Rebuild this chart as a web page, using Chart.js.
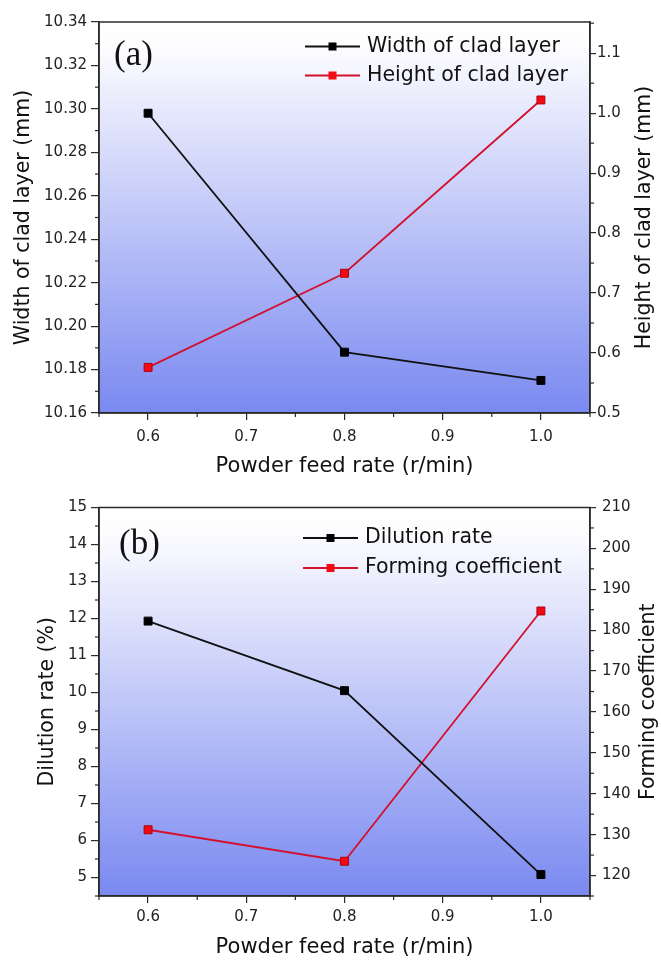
<!DOCTYPE html>
<html>
<head>
<meta charset="utf-8">
<script src="https://cdn.jsdelivr.net/npm/chart.js@4/dist/chart.umd.min.js"></script>
<style>
  html, body { margin: 0; padding: 0; background: #fff; }
  .panel { position: absolute; left: 0; width: 661px; height: 481px; }
</style>
</head>
<body>
<div class="panel" style="top:0"><canvas id="chartA" width="661" height="481"></canvas></div>
<div class="panel" style="top:481px"><canvas id="chartB" width="661" height="481"></canvas></div>
<script>
'use strict';

// data
var feedRate = [0.6, 0.8, 1.0];
var cladWidth = [10.298, 10.188, 10.175];
var cladHeight = [0.576, 0.733, 1.022];
var dilutionRate = [11.93, 10.05, 5.08];
var formingCoef = [131.2, 123.5, 184.7];

// tick labels
var feedTicks = [0.6, 0.7, 0.8, 0.9, 1.0];
var widthTicks = [10.16, 10.18, 10.20, 10.22, 10.24, 10.26, 10.28, 10.30, 10.32, 10.34];
var heightTicks = [0.5, 0.6, 0.7, 0.8, 0.9, 1.0, 1.1];
var dilutionTicks = [5, 6, 7, 8, 9, 10, 11, 12, 13, 14, 15];
var formingTicks = [120, 130, 140, 150, 160, 170, 180, 190, 200, 210];

var FONT = 'DejaVu Sans';
var AXIS = '#2b2b2b';
var RED_LINE = '#d3112d';
var RED_PT = '#f20a14';

function pts(xs, ys) {
    return xs.map(function (x, i) { return { x: x, y: ys[i] }; });
}

function fixTicks(values) {
    return function (scale) {
        scale.ticks = values.map(function (v) { return { value: v }; });
    };
}

// gradient behind the plot
var bgPlugin = {
    id: 'plotBg',
    beforeDraw: function (chart) {
        var a = chart.chartArea, ctx = chart.ctx;
        var g = ctx.createLinearGradient(0, a.top, 0, a.bottom);
        g.addColorStop(0, '#ffffff');
        g.addColorStop(0.06, '#fdfdff');
        g.addColorStop(1, '#7a89f0');
        ctx.save();
        ctx.fillStyle = g;
        ctx.fillRect(a.left, a.top, a.right - a.left, a.bottom - a.top);
        ctx.restore();
    }
};

// frame, minor ticks, right title, panel letter and legend
var decoPlugin = {
    id: 'deco',
    afterDraw: function (chart, args, opts) {
        var ctx = chart.ctx, a = chart.chartArea;
        ctx.save();
        ctx.strokeStyle = AXIS;
        ctx.lineWidth = 1.5;
        ctx.strokeRect(a.left, a.top, a.right - a.left, a.bottom - a.top);

        ctx.lineWidth = 1.2;
        ['x', 'y', 'y1'].forEach(function (id) {
            var s = chart.scales[id];
            var t = s.ticks.map(function (k) { return k.value; });
            var step = t[1] - t[0];
            var vals = [t[0] - step / 2];
            t.forEach(function (v) { vals.push(v + step / 2); });
            vals.forEach(function (v) {
                if (v < s.min - 1e-9 || v > s.max + 1e-9) return;
                var p = s.getPixelForValue(v);
                ctx.beginPath();
                if (id === 'x') { ctx.moveTo(p, a.bottom); ctx.lineTo(p, a.bottom + 4); }
                else if (id === 'y') { ctx.moveTo(a.left, p); ctx.lineTo(a.left - 4, p); }
                else { ctx.moveTo(a.right, p); ctx.lineTo(a.right + 4, p); }
                ctx.stroke();
            });
        });

        // right axis title, reading bottom to top
        ctx.fillStyle = '#111';
        ctx.font = '20.5px "' + FONT + '"';
        ctx.textBaseline = 'middle';
        ctx.textAlign = 'center';
        ctx.save();
        ctx.translate(opts.rightTitleX, (a.top + a.bottom) / 2);
        ctx.rotate(-Math.PI / 2);
        ctx.fillText(opts.rightTitle, 0, 0);
        ctx.restore();

        // panel letter
        ctx.textAlign = 'left';
        ctx.font = '35px "Liberation Serif"';
        ctx.fillText(opts.letter, opts.letterX, opts.letterY);

        // legend
        ctx.font = '20.5px "' + FONT + '"';
        chart.data.datasets.forEach(function (ds, i) {
            var y = opts.legY + i * opts.legGap;
            var x0 = opts.legX;
            ctx.strokeStyle = ds.borderColor;
            ctx.lineWidth = 1.8;
            ctx.beginPath();
            ctx.moveTo(x0, y);
            ctx.lineTo(x0 + 55, y);
            ctx.stroke();
            ctx.fillStyle = ds.pointBackgroundColor;
            ctx.fillRect(x0 + 23.5, y - 4, 8, 8);
            ctx.fillStyle = '#111';
            ctx.fillText(ds.label, x0 + 62, y);
        });
        ctx.restore();
    }
};

function makeChart(canvasId, cfg) {
    var ctx = document.getElementById(canvasId).getContext('2d');
    return new Chart(ctx, {
        type: 'line',
        data: {
            datasets: [{
                label: cfg.labels[0],
                data: pts(feedRate, cfg.left),
                yAxisID: 'y',
                borderColor: '#111',
                pointBackgroundColor: '#000',
                pointBorderColor: '#000',
            }, {
                label: cfg.labels[1],
                data: pts(feedRate, cfg.right),
                yAxisID: 'y1',
                borderColor: RED_LINE,
                pointBackgroundColor: RED_PT,
                pointBorderColor: '#b0000a',
            }]
        },
        options: {
            responsive: false,
            animation: false,
            devicePixelRatio: 1,
            layout: { padding: { top: cfg.top, left: 0, right: 0, bottom: 0 } },
            elements: {
                line: { borderWidth: 1.8, tension: 0 },
                point: { pointStyle: 'rect', radius: 5.6, borderWidth: 1 }
            },
            plugins: {
                legend: { display: false },
                tooltip: { enabled: false },
                deco: cfg.deco
            },
            scales: {
                x: {
                    type: 'linear',
                    min: 0.55, max: 1.05,
                    afterBuildTicks: fixTicks(feedTicks),
                    afterFit: function (s) { s.height = cfg.xHeight; },
                    border: { color: AXIS, width: 1.5 },
                    grid: { drawOnChartArea: false, color: AXIS, lineWidth: 1.2, tickLength: 7 },
                    ticks: {
                        color: '#222', padding: cfg.xPad,
                        font: { family: FONT, size: 15 },
                        callback: function (v) { return v.toFixed(1); }
                    },
                    title: {
                        display: true, text: 'Powder feed rate (r/min)', color: '#111',
                        font: { family: FONT, size: 21 },
                        padding: { top: 0, bottom: cfg.xTitlePad }
                    }
                },
                y: {
                    position: 'left',
                    min: cfg.leftMin, max: cfg.leftMax,
                    afterBuildTicks: fixTicks(cfg.leftTicks),
                    afterFit: function (s) { s.width = 99; },
                    border: { color: AXIS, width: 1.5 },
                    grid: { drawOnChartArea: false, color: AXIS, lineWidth: 1.2, tickLength: 8 },
                    ticks: {
                        color: '#222', padding: 4,
                        font: { family: FONT, size: 15 },
                        callback: function (v) { return v.toFixed(cfg.leftDec); }
                    },
                    title: {
                        display: true, text: cfg.leftTitle, color: '#111',
                        font: { family: FONT, size: 20.5 },
                        padding: { top: cfg.leftTitlePad, bottom: 0 }
                    }
                },
                y1: {
                    position: 'right',
                    min: cfg.rightMin, max: cfg.rightMax,
                    afterBuildTicks: fixTicks(cfg.rightTicks),
                    afterFit: function (s) { s.width = 71; },
                    border: { color: AXIS, width: 1.5 },
                    grid: { drawOnChartArea: false, color: AXIS, lineWidth: 1.2, tickLength: 6 },
                    ticks: {
                        color: '#222', padding: cfg.rightPad,
                        font: { family: FONT, size: 15 },
                        callback: function (v) { return v.toFixed(cfg.rightDec); }
                    },
                    title: { display: false }
                }
            }
        },
        plugins: [bgPlugin, decoPlugin]
    });
}

makeChart('chartA', {
    labels: ['Width of clad layer', 'Height of clad layer'],
    left: cladWidth, right: cladHeight,
    top: 22, xHeight: 68, xPad: 8, xTitlePad: 2,
    leftMin: 10.16, leftMax: 10.34, leftTicks: widthTicks, leftDec: 2,
    leftTitle: 'Width of clad layer (mm)', leftTitlePad: 11,
    rightMin: 0.5, rightMax: 1.152, rightTicks: heightTicks, rightDec: 1, rightPad: 1,
    deco: {
        rightTitle: 'Height of clad layer (mm)', rightTitleX: 645,
        letter: '(a)', letterX: 114, letterY: 56, legX: 305, legY: 46.5, legGap: 29
    }
});

makeChart('chartB', {
    labels: ['Dilution rate', 'Forming coefficient'],
    left: dilutionRate, right: formingCoef,
    top: 26.5, xHeight: 66, xPad: 5.5, xTitlePad: 1.5,
    leftMin: 4.5, leftMax: 15, leftTicks: dilutionTicks, leftDec: 0,
    leftTitle: 'Dilution rate (%)', leftTitlePad: 35,
    rightMin: 115, rightMax: 210, rightTicks: formingTicks, rightDec: 0, rightPad: 6,
    deco: {
        rightTitle: 'Forming coefficient', rightTitleX: 649,
        letter: '(b)', letterX: 119, letterY: 64, legX: 303, legY: 57, legGap: 30
    }
});
</script>
</body>
</html>
